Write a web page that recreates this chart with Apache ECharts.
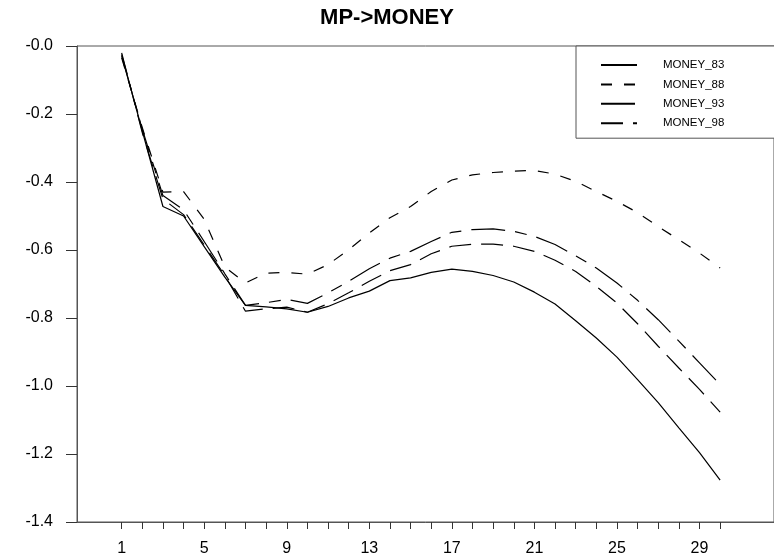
<!DOCTYPE html>
<html>
<head>
<meta charset="utf-8">
<script src="https://cdn.jsdelivr.net/npm/echarts@6/dist/echarts.min.js"></script>
<style>html,body{margin:0;padding:0;background:#fff}#c{width:774px;height:559px}</style>
</head>
<body>
<div id="c"></div>
<script>
const periods = [1,2,3,4,5,6,7,8,9,10,11,12,13,14,15,16,17,18,19,20,21,22,23,24,25,26,27,28,29,30];
const xTickLabels = [1,5,9,13,17,21,25,29];
const yTickValues = [0,-0.2,-0.4,-0.6,-0.8,-1.0,-1.2,-1.4];
const money83 = [-0.025,-0.25,-0.472,-0.50,-0.59,-0.68,-0.763,-0.767,-0.773,-0.783,-0.766,-0.741,-0.721,-0.690,-0.682,-0.666,-0.656,-0.663,-0.675,-0.694,-0.724,-0.759,-0.808,-0.859,-0.915,-0.981,-1.049,-1.123,-1.196,-1.277];
const money88 = [-0.035,-0.24,-0.43,-0.428,-0.51,-0.65,-0.697,-0.668,-0.666,-0.671,-0.643,-0.599,-0.550,-0.505,-0.472,-0.428,-0.394,-0.379,-0.372,-0.368,-0.366,-0.377,-0.398,-0.428,-0.457,-0.490,-0.531,-0.570,-0.609,-0.653];
const money93 = [-0.03,-0.245,-0.44,-0.482,-0.575,-0.67,-0.763,-0.755,-0.745,-0.757,-0.726,-0.692,-0.655,-0.624,-0.604,-0.575,-0.548,-0.540,-0.538,-0.545,-0.560,-0.584,-0.617,-0.653,-0.697,-0.748,-0.805,-0.868,-0.932,-0.996];
const money98 = [-0.02,-0.255,-0.45,-0.496,-0.585,-0.675,-0.780,-0.773,-0.768,-0.783,-0.758,-0.726,-0.692,-0.661,-0.643,-0.611,-0.589,-0.583,-0.583,-0.589,-0.604,-0.630,-0.663,-0.707,-0.756,-0.817,-0.883,-0.947,-1.010,-1.077];
const seriesNames = ['MONEY_83','MONEY_88','MONEY_93','MONEY_98'];

const FONT = '"Liberation Sans", Arial, sans-serif';
const pair = arr => periods.map((p, i) => [p, arr[i]]);
const dashes = ['solid', [11, 12], [34, 10, 12, 10], [22, 10]];
const values = [money83, money88, money93, money98];

const chart = echarts.init(document.getElementById('c'), null, {renderer: 'canvas'});
chart.setOption({
  animation: false,
  backgroundColor: '#fff',
  title: {
    text: 'MP->MONEY',
    left: 'center',
    top: 2,
    textStyle: {fontFamily: FONT, fontSize: 22, fontWeight: 'bold', color: '#000'}
  },
  grid: {
    left: 77, top: 46, right: -10, bottom: 37,
    show: true, borderColor: '#555', borderWidth: 1, backgroundColor: 'transparent'
  },
  legend: {
    orient: 'vertical',
    left: 576, top: 46,
    padding: [13, 70, 9, 24],
    itemWidth: 36, itemHeight: 10, itemGap: 7.4,
    borderColor: '#555', borderWidth: 1, backgroundColor: '#fff',
    itemStyle: {color: 'transparent', borderWidth: 0, opacity: 0},
    data: seriesNames,
    textStyle: {fontFamily: FONT, fontSize: 11.5, color: '#000', padding: [0, 0, 0, 21]}
  },
  xAxis: {
    type: 'value',
    min: -1.164, max: 32.61,
    splitLine: {show: false},
    axisLine: {onZero: false, lineStyle: {color: '#555', width: 1}},
    axisTick: {show: true, inside: false, length: 7, lineStyle: {color: '#333'}, customValues: periods},
    axisLabel: {customValues: xTickLabels, margin: 19, fontFamily: FONT, fontSize: 16, color: '#000'}
  },
  yAxis: {
    type: 'value',
    min: -1.4, max: 0, interval: 0.2,
    splitLine: {show: false},
    axisLine: {show: true, onZero: false, lineStyle: {color: '#555', width: 1}},
    axisTick: {show: true, inside: false, length: 11, lineStyle: {color: '#333'}, customValues: yTickValues},
    axisLabel: {
      customValues: yTickValues,
      margin: 24, fontFamily: FONT, fontSize: 16, color: '#000',
      formatter: v => '-' + Math.abs(v).toFixed(1)
    }
  },
  series: seriesNames.map((name, k) => ({
    name: name,
    type: 'line',
    data: pair(values[k]),
    symbol: 'none',
    showSymbol: false,
    lineStyle: {color: '#000', width: 1.2, type: dashes[k]},
    itemStyle: {color: '#000'}
  }))
});
</script>
</body>
</html>
